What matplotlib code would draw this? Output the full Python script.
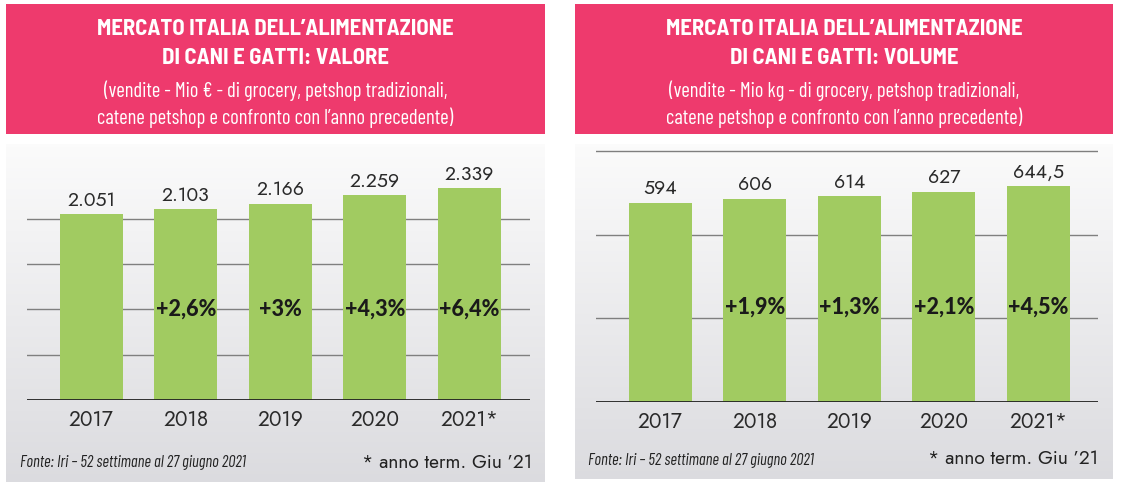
import numpy as np
import matplotlib
matplotlib.use("Agg")
import matplotlib.pyplot as plt
from matplotlib.patches import Rectangle

# data
years = ["2017", "2018", "2019", "2020", "2021*"]
valore = [2051, 2103, 2166, 2259, 2339]
valore_labels = ["2.051", "2.103", "2.166", "2.259", "2.339"]
valore_pct = ["", "+2,6%", "+3%", "+4,3%", "+6,4%"]
volume = [594, 606, 614, 627, 644.5]
volume_labels = ["594", "606", "614", "627", "644,5"]
volume_pct = ["", "+1,9%", "+1,3%", "+2,1%", "+4,5%"]

titolo_valore = ["MERCATO ITALIA DELL\u2019ALIMENTAZIONE", "DI CANI E GATTI: VALORE"]
sotto_valore = ["(vendite - Mio \u20ac - di grocery, petshop tradizionali,",
                "catene petshop e confronto con l\u2019anno precedente)"]
titolo_volume = ["MERCATO ITALIA DELL\u2019ALIMENTAZIONE", "DI CANI E GATTI: VOLUME"]
sotto_volume = ["(vendite - Mio kg - di grocery, petshop tradizionali,",
                "catene petshop e confronto con l\u2019anno precedente)"]
fonte = "Fonte: Iri \u2013 52 settimane al 27 giugno 2021"
nota = "* anno term. Giu \u201921"

PINK = "#EE3A6D"
GREEN = "#A1CB61"
COND = ["Barlow Condensed", "DejaVu Sans"]
SEMI = ["Barlow Semi Condensed", "Barlow Condensed", "DejaVu Sans"]
GEO = ["Jost", "Questrial", "Lato", "DejaVu Sans"]
BOLD = ["Lato", "DejaVu Sans"]
W, H = 1121, 489

fig = plt.figure(figsize=(W / 100, H / 100), dpi=100)
fig.patch.set_facecolor("white")

# background layer in pixel coordinates
bg = fig.add_axes([0, 0, 1, 1])
bg.axis("off")

grad = np.linspace(0, 1, 256)[:, None]
top_col = np.array([0.985, 0.985, 0.985])
bot_col = np.array([0.86, 0.86, 0.875])
grad_img = top_col[None, None, :] * (1 - grad[:, :, None]) + bot_col[None, None, :] * grad[:, :, None]


def header_and_panel(x0, x1, grey_bottom, titolo, sotto, fonte_xy, nota_xy):
    bg.add_patch(Rectangle((x0, 5), x1 - x0, 130, color=PINK, lw=0))
    bg.imshow(grad_img, extent=(x0, x1, grey_bottom, 145), origin="upper", aspect="auto")
    cx = (x0 + x1) / 2
    for y, line in zip([29, 58], titolo):
        bg.text(cx, y, line, ha="center", va="center", color="white", fontsize=16.3,
                fontweight=700, family=SEMI)
    for y, line in zip([91, 118], sotto):
        bg.text(cx, y, line, ha="center", va="center", color="white", fontsize=14.8,
                fontweight=400, family=COND)
    bg.text(fonte_xy[0], fonte_xy[1], fonte, ha="left", va="center", color="#222222",
            fontsize=11.8, fontweight=400, style="italic", family=COND)
    bg.text(nota_xy[0], nota_xy[1], nota, ha="right", va="center", color="#222222",
            fontsize=13.8, fontweight=300, family=GEO)


header_and_panel(6, 545, 483, titolo_valore, sotto_valore, (20, 463), (532, 463))
header_and_panel(575, 1113, 480, titolo_volume, sotto_volume, (588, 460), (1098, 458))
bg.set_xlim(0, W)
bg.set_ylim(H, 0)


def bar_panel(px0, px1, py_base, ylim_top, px_per_unit, values, labels, pcts, grid_vals, pct_y):
    py_top = py_base - ylim_top * px_per_unit
    ax = fig.add_axes([px0 / W, (H - py_base) / H, (px1 - px0) / W, (py_base - py_top) / H])
    ax.patch.set_alpha(0)
    x = np.arange(len(values))
    for g in grid_vals:
        ax.axhline(g, color="#7f7f7f", lw=1, zorder=1)
    ax.axhline(0, color="#222222", lw=1.3, zorder=3)
    ax.bar(x, values, width=0.665, color=GREEN, zorder=2)
    for xi, v, lab in zip(x, values, labels):
        ax.annotate(lab, (xi, v), xytext=(0, 4), textcoords="offset points", ha="center",
                    va="bottom", fontsize=14, family=GEO, fontweight=300, color="#2a2a2a")
    for xi, p in zip(x, pcts):
        if p:
            ax.text(xi, pct_y, p, ha="center", va="center", fontsize=15.5, family=BOLD,
                    fontweight=900, color="#1a1a1a", zorder=4)
    span = (px1 - px0) / 94.5
    ax.set_xlim(-0.681, span - 0.681)
    ax.set_ylim(0, ylim_top)
    ax.set_xticks(x)
    ax.set_xticklabels(years, fontsize=15, family=GEO, fontweight=300, color="#2a2a2a")
    ax.tick_params(axis="x", length=0, pad=6)
    ax.set_yticks([])
    for s in ax.spines.values():
        s.set_visible(False)
    return ax


bar_panel(27, 530, 401, 2600, 0.0906, valore, valore_labels, valore_pct,
          [500, 1000, 1500, 2000], 1015)
bar_panel(596, 1098, 403, 780, 0.335, volume, volume_labels, volume_pct,
          [250, 500, 750], 287)

fig.savefig("out.png", dpi=100, facecolor="white")
